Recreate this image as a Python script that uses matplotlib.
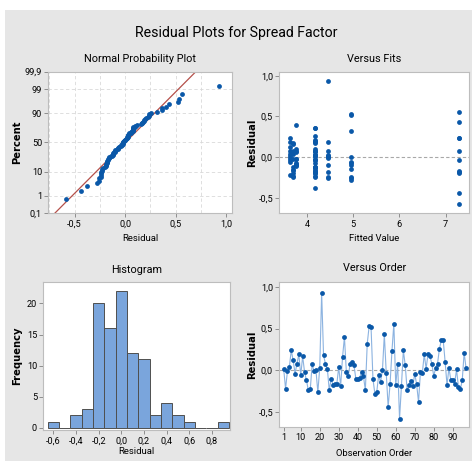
import matplotlib
matplotlib.use("Agg")
import matplotlib.pyplot as plt
from matplotlib.patches import Rectangle
from statistics import NormalDist
import numpy as np

plt.rcParams['font.family'] = ['Roboto', 'DejaVu Sans']

# residuos na ordem de observacao
residuos = [0.02, -0.22, -0.01, 0.04, 0.24, 0.12, -0.04, 0.08, 0.19, -0.06,
            0.17, -0.02, -0.12, -0.24, -0.23, 0.07, -0.01, 0.00, -0.26, 0.03,
            0.93, 0.18, 0.08, 0.02, -0.24, -0.10, -0.18, -0.16, -0.16, 0.04,
            -0.19, 0.16, 0.40, -0.02, -0.07, 0.08, 0.10, 0.06, -0.10, -0.11,
            -0.09, -0.02, -0.07, -0.24, 0.32, 0.53, 0.52, -0.10, -0.28, -0.26,
            -0.06, -0.14, 0.00, 0.43, -0.03, -0.44, -0.17, 0.23, 0.56, -0.18,
            0.08, -0.58, -0.19, 0.24, 0.06, -0.24, -0.18, -0.13, -0.19, -0.04,
            -0.17, -0.38, -0.02, -0.03, 0.19, 0.02, 0.20, 0.17, 0.08, -0.07,
            0.03, 0.08, 0.26, 0.36, 0.36, 0.10, -0.18, 0.03, -0.12, -0.12,
            -0.16, 0.01, -0.20, -0.23, -0.12, 0.21, 0.03]

# valores ajustados (grupos do modelo)
ajustados = ([3.63] * 10 + [3.70] * 6 + [4.46] * 11 + [3.70] * 5 + [3.77] * 10
             + [4.95] * 11 + [7.28] * 11 + [4.17] * 33)

ordem = list(range(1, len(residuos) + 1))

azul = "#0a58a8"
cinza = "#bdbdbd"
tam_tit = 7.8
tam_tick = 6.6
tam_lab = 6.8
tam_ylab = 7.2


def virgula(v, casas=1):
    return f"{v:.{casas}f}".replace(".", ",")


def estilo(ax):
    for s in ax.spines.values():
        s.set_color(cinza)
        s.set_linewidth(0.8)
    ax.tick_params(labelsize=tam_tick, length=3, width=0.6, color="#808080", pad=1.5)


fig = plt.figure(figsize=(4.72, 4.61), dpi=100)
fig.patch.set_facecolor("white")
fig.patches.append(Rectangle((5 / 472, 0), 1, 1 - 10 / 461, transform=fig.transFigure,
                             facecolor="#e6e6e6", edgecolor="none", zorder=-10))

fig.text(0.5, 0.928, "Residual Plots for Spread Factor", ha="center", va="center", fontsize=10.2)

# grafico de probabilidade normal
ax1 = fig.add_axes([0.1023, 0.5373, 0.3898, 0.3072])
n = len(residuos)
ordenados = np.sort(residuos)
nd = NormalDist()
z = [nd.inv_cdf((i - 0.3) / (n + 0.4)) for i in range(1, n + 1)]
media = np.mean(residuos)
desvio = np.std(residuos, ddof=1)
zl = np.array([-3.2, 3.2])
ax1.plot(media + zl * desvio, zl, color="#b5504a", lw=0.9, zorder=2)
ax1.scatter(ordenados, z, s=12, color=azul, zorder=3, linewidths=0)
pct = [0.1, 1, 10, 50, 90, 99, 99.9]
rot_pct = ["0,1", "1", "10", "50", "90", "99", "99,9"]
ax1.set_yticks([nd.inv_cdf(p / 100) for p in pct])
ax1.set_yticklabels(rot_pct)
ax1.set_ylim(nd.inv_cdf(0.001), nd.inv_cdf(0.999))
ax1.set_xlim(-0.76, 1.06)
ax1.set_xticks([-0.5, 0.0, 0.5, 1.0])
ax1.set_xticklabels([virgula(v) for v in [-0.5, 0.0, 0.5, 1.0]])
for v in [-0.75, -0.5, -0.25, 0, 0.25, 0.5, 0.75]:
    ax1.axvline(v, color="#d9d9d9", lw=0.6, ls=(0, (4, 3)), zorder=1)
for p in [1, 10, 50, 90, 99]:
    ax1.axhline(nd.inv_cdf(p / 100), color="#d9d9d9", lw=0.6, ls=(0, (4, 3)), zorder=1)
ax1.set_title("Normal Probability Plot", fontsize=tam_tit, pad=7)
ax1.set_xlabel("Residual", fontsize=tam_lab, labelpad=4)
ax1.set_ylabel("Percent", fontsize=tam_ylab, fontweight="bold", family="DejaVu Sans", labelpad=2)
estilo(ax1)

# residuos versus ajustados
ax2 = fig.add_axes([0.5917, 0.5373, 0.4025, 0.3072])
ax2.axhline(0, color="#a8a8a8", lw=0.8, ls=(0, (3, 2)), zorder=1)
ax2.scatter(ajustados, residuos, s=12, color=azul, zorder=3, linewidths=0)
ax2.set_xlim(3.40, 7.51)
ax2.set_ylim(-0.69, 1.05)
ax2.set_xticks([4, 5, 6, 7])
ax2.set_yticks([-0.5, 0.0, 0.5, 1.0])
ax2.set_yticklabels([virgula(v) for v in [-0.5, 0.0, 0.5, 1.0]])
ax2.set_title("Versus Fits", fontsize=tam_tit, pad=7)
ax2.set_xlabel("Fitted Value", fontsize=tam_lab, labelpad=4)
ax2.set_ylabel("Residual", fontsize=tam_ylab, fontweight="bold", family="DejaVu Sans", labelpad=1)
estilo(ax2)

# histograma
ax3 = fig.add_axes([0.0917, 0.0672, 0.3956, 0.3204])
bordas = np.round(np.arange(-0.65, 1.0, 0.1), 2)
ax3.hist(residuos, bins=bordas, color="#7aa5dc", edgecolor="#4f4f4f", linewidth=0.7, zorder=2)
ax3.set_xlim(-0.69, 0.96)
ax3.set_ylim(-0.35, 23.4)
ax3.set_xticks([-0.6, -0.4, -0.2, 0.0, 0.2, 0.4, 0.6, 0.8])
ax3.set_xticklabels([virgula(v) for v in [-0.6, -0.4, -0.2, 0.0, 0.2, 0.4, 0.6, 0.8]])
ax3.set_yticks([0, 5, 10, 15, 20])
ax3.set_title("Histogram", fontsize=tam_tit, pad=7)
ax3.set_xlabel("Residual", fontsize=tam_lab, labelpad=1)
ax3.set_ylabel("Frequency", fontsize=tam_ylab, fontweight="bold", family="DejaVu Sans", labelpad=3)
estilo(ax3)

# residuos versus ordem
ax4 = fig.add_axes([0.5917, 0.0738, 0.4025, 0.3145])
ax4.axhline(0, color="#a8a8a8", lw=0.8, ls=(0, (3, 2)), zorder=1)
ax4.plot(ordem, residuos, color="#8cb3e0", lw=0.8, zorder=2)
ax4.scatter(ordem, residuos, s=12, color=azul, zorder=3, linewidths=0)
ax4.set_xlim(-1.3, 98.7)
ax4.set_ylim(-0.68, 1.06)
ax4.set_xticks([1, 10, 20, 30, 40, 50, 60, 70, 80, 90])
ax4.set_yticks([-0.5, 0.0, 0.5, 1.0])
ax4.set_yticklabels([virgula(v) for v in [-0.5, 0.0, 0.5, 1.0]])
ax4.set_title("Versus Order", fontsize=tam_tit, pad=8)
ax4.set_xlabel("Observation Order", fontsize=tam_lab, labelpad=5)
ax4.set_ylabel("Residual", fontsize=tam_ylab, fontweight="bold", family="DejaVu Sans", labelpad=1)
estilo(ax4)

fig.savefig("out.png", dpi=100)
